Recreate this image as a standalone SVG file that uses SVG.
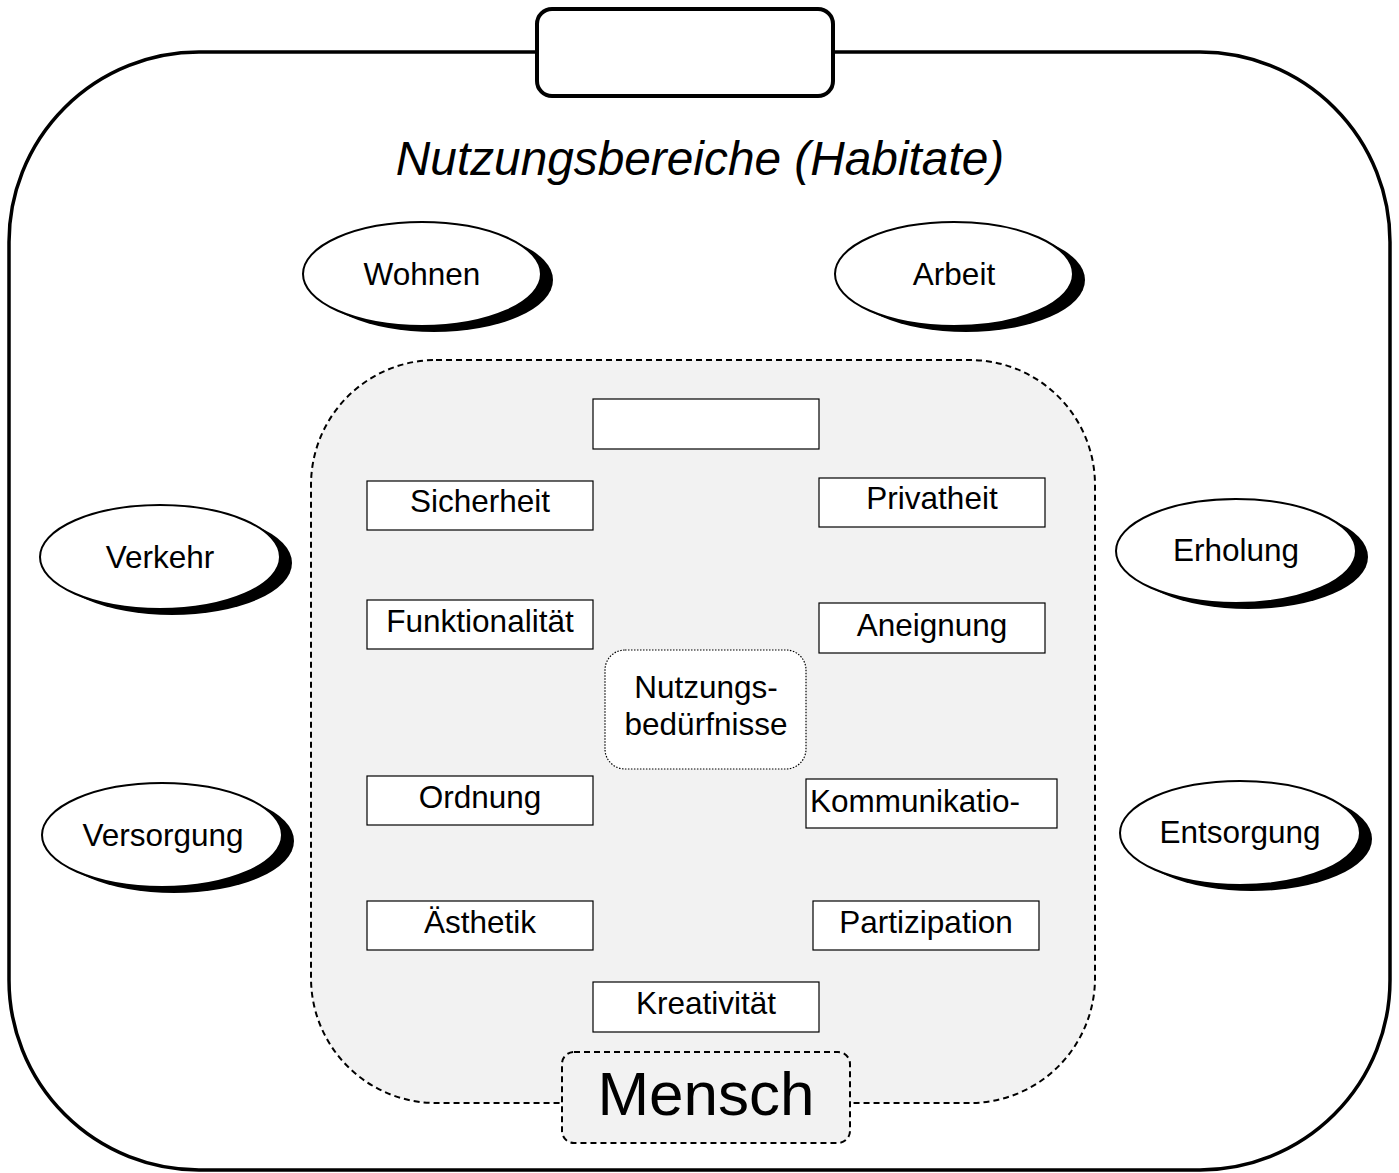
<svg xmlns="http://www.w3.org/2000/svg" width="1399" height="1173" viewBox="0 0 1399 1173">
<style>
text{font-family:"Liberation Sans",Arial,sans-serif;fill:#000}
.lbl{font-size:31.5px;text-anchor:middle}
.box{fill:#fff;stroke:#000;stroke-width:1.2}
.ell{fill:#fff;stroke:#000;stroke-width:2}
.shd{fill:#000}
</style>
<rect width="1399" height="1173" fill="#fff"/>
<g id="frame">
<rect x="9" y="52" width="1381" height="1118" rx="190" ry="190" fill="#fff" stroke="#000" stroke-width="3.5"/>
<rect x="537" y="9" width="296" height="87" rx="15" fill="#fff" stroke="#000" stroke-width="4"/>
<text x="700" y="175" font-size="47.8" font-style="italic" text-anchor="middle">Nutzungsbereiche (Habitate)</text>
</g>
<g id="wohnen"><ellipse class="shd" cx="434" cy="280" rx="119" ry="52"/><ellipse class="ell" cx="422" cy="274" rx="119" ry="52"/><text class="lbl" x="422" y="285">Wohnen</text></g>
<g id="arbeit"><ellipse class="shd" cx="966" cy="280" rx="119" ry="52"/><ellipse class="ell" cx="954" cy="274" rx="119" ry="52"/><text class="lbl" x="954" y="285">Arbeit</text></g>
<g id="verkehr"><ellipse class="shd" cx="172" cy="563" rx="120" ry="52"/><ellipse class="ell" cx="160" cy="557" rx="120" ry="52"/><text class="lbl" x="160" y="568">Verkehr</text></g>
<g id="erholung"><ellipse class="shd" cx="1248" cy="557" rx="120" ry="52"/><ellipse class="ell" cx="1236" cy="551" rx="120" ry="52"/><text class="lbl" x="1236" y="561">Erholung</text></g>
<g id="versorgung"><ellipse class="shd" cx="174" cy="841" rx="120" ry="52"/><ellipse class="ell" cx="162" cy="835" rx="120" ry="52"/><text class="lbl" x="163" y="846">Versorgung</text></g>
<g id="entsorgung"><ellipse class="shd" cx="1252" cy="839" rx="120" ry="52"/><ellipse class="ell" cx="1240" cy="833" rx="120" ry="52"/><text class="lbl" x="1240" y="843">Entsorgung</text></g>
<g id="mensch-area">
<rect x="311" y="360" width="784" height="743" rx="125" ry="125" fill="#f2f2f2" stroke="#000" stroke-width="2" stroke-dasharray="6,4"/>
</g>
<g id="top-empty"><rect class="box" x="593" y="399" width="226" height="50"/></g>
<g id="sicherheit"><rect class="box" x="367" y="481" width="226" height="49"/><text class="lbl" x="480" y="512">Sicherheit</text></g>
<g id="privatheit"><rect class="box" x="819" y="478" width="226" height="49"/><text class="lbl" x="932" y="509">Privatheit</text></g>
<g id="funktionalitaet"><rect class="box" x="367" y="600" width="226" height="49"/><text class="lbl" x="480" y="632">Funktionalität</text></g>
<g id="aneignung"><rect class="box" x="819" y="603" width="226" height="50"/><text class="lbl" x="932" y="636">Aneignung</text></g>
<g id="nutzungsbeduerfnisse"><rect x="605" y="650" width="201" height="119" rx="20" fill="#fff" stroke="#000" stroke-width="1.2" stroke-dasharray="1.5,1.5"/><text class="lbl" x="706" y="698">Nutzungs-</text><text class="lbl" x="706" y="735">bedürfnisse</text></g>
<g id="ordnung"><rect class="box" x="367" y="776" width="226" height="49"/><text class="lbl" x="480" y="808">Ordnung</text></g>
<g id="kommunikation"><rect class="box" x="806" y="779" width="251" height="49"/><text x="810" y="812" font-size="31.5">Kommunikatio-</text></g>
<g id="aesthetik"><rect class="box" x="367" y="901" width="226" height="49"/><text class="lbl" x="480" y="933">Ästhetik</text></g>
<g id="partizipation"><rect class="box" x="813" y="901" width="226" height="49"/><text class="lbl" x="926" y="933">Partizipation</text></g>
<g id="kreativitaet"><rect class="box" x="593" y="982" width="226" height="50"/><text class="lbl" x="706" y="1014">Kreativität</text></g>
<g id="mensch"><rect x="562" y="1052" width="288" height="91" rx="12" fill="#f2f2f2" stroke="#000" stroke-width="2" stroke-dasharray="6,4"/><text x="706" y="1115" font-size="62" text-anchor="middle">Mensch</text></g>
<g id="connectors"></g>
</svg>
